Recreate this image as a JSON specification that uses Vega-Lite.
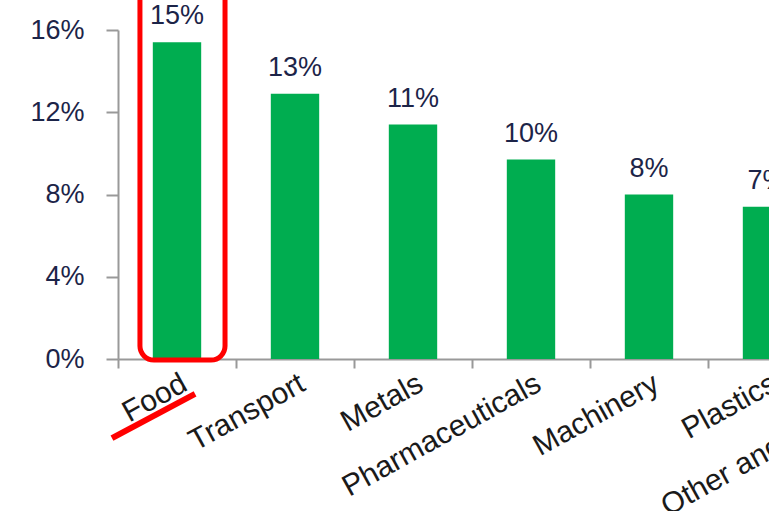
{
  "$schema": "https://vega.github.io/schema/vega-lite/v6.json",
  "autosize": "none",
  "padding": {"left": 118, "top": 30, "right": 0, "bottom": 152},
  "width": 651,
  "height": 329,
  "background": "white",
  "config": {"view": {"stroke": null}, "font": "Liberation Sans"},
  "datasets": {
    "sectors": [
      {"sector": "Food", "share": 0.154},
      {"sector": "Transport", "share": 0.129},
      {"sector": "Metals", "share": 0.114},
      {"sector": "Pharmaceuticals", "share": 0.097},
      {"sector": "Machinery", "share": 0.080},
      {"sector": "Plastics", "share": 0.074},
      {"sector": "Other and unknown", "share": 0.060}
    ],
    "annot": [
      {"shape": "box", "x0": 0.186, "x1": 0.907, "y0": -0.0005, "y1": 0.19},
      {"shape": "underline", "x0": -0.051, "x1": 0.653, "y0": -0.0385, "y1": -0.017}
    ]
  },
  "layer": [
    {
      "data": {"name": "sectors"},
      "encoding": {
        "x": {
          "field": "sector", "type": "nominal", "sort": null,
          "scale": {"range": [0, 826], "paddingInner": 0, "paddingOuter": 0},
          "axis": {
            "title": null, "tickBand": "extent", "tickSize": 9, "tickWidth": 2,
            "tickColor": "#999999", "domainColor": "#999999", "domainWidth": 2,
            "labelAngle": -29, "labelFontSize": 30, "labelColor": "#1a1a1a",
            "labelPadding": 0, "labelLimit": 500, "labelBound": false, "labelFlush": false
          }
        },
        "y": {
          "field": "share", "type": "quantitative",
          "scale": {"domain": [0, 0.16], "nice": false, "zero": true},
          "axis": {
            "title": null, "grid": false, "values": [0, 0.04, 0.08, 0.12, 0.16],
            "format": ".0%", "tickSize": 12, "tickWidth": 2, "tickColor": "#999999",
            "domainColor": "#999999", "domainWidth": 2, "labelFontSize": 27,
            "labelColor": "#1c2448", "labelPadding": 22, "labelBound": false, "labelFlush": false
          }
        }
      },
      "layer": [
        {"mark": {"type": "bar", "color": "#00AD50", "width": {"band": 0.41}}},
        {
          "mark": {"type": "text", "fontSize": 27, "color": "#1c2448", "baseline": "alphabetic", "dy": -18},
          "encoding": {"text": {"field": "share", "type": "quantitative", "format": ".0%"}}
        }
      ]
    },
    {
      "data": {"name": "annot"},
      "encoding": {
        "x": {"field": "x0", "type": "quantitative", "scale": {"domain": [0, 7], "range": [0, 826], "nice": false, "zero": false}, "axis": null},
        "x2": {"field": "x1"},
        "y": {"field": "y0", "type": "quantitative", "title": null},
        "y2": {"field": "y1"}
      },
      "layer": [
        {
          "transform": [{"filter": "datum.shape === 'box'"}],
          "mark": {"type": "rect", "fill": null, "filled": false, "stroke": "#FF0000", "strokeWidth": 5, "cornerRadius": 14, "clip": false}
        },
        {
          "transform": [{"filter": "datum.shape === 'underline'"}],
          "mark": {"type": "rule", "stroke": "#FF0000", "strokeWidth": 6, "strokeCap": "butt", "clip": false}
        }
      ]
    }
  ],
  "resolve": {"scale": {"x": "independent"}}
}
